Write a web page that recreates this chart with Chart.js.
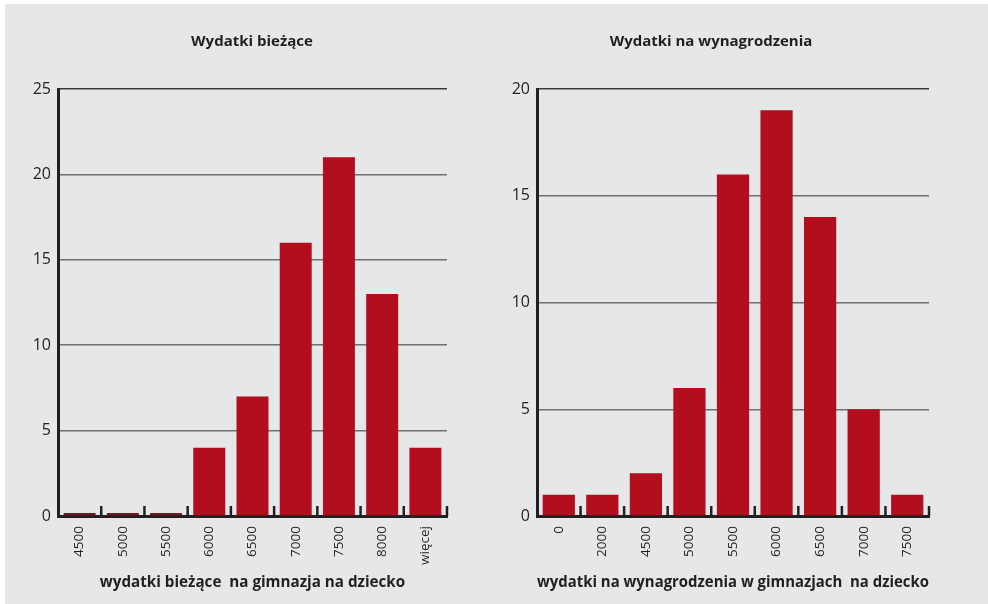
<!DOCTYPE html>
<html>
<head>
<meta charset="utf-8">
<script src="https://cdn.jsdelivr.net/npm/chart.js@4"></script>
<style>
  body { margin: 0; background: #fff; width: 988px; height: 604px; overflow: hidden; position: relative; }
  #panel { position: absolute; left: 5px; top: 4px; width: 983px; height: 600px; background: #e6e7e8; }
  .box { position: absolute; top: 0; height: 604px; }
  #box1 { left: 5px; width: 494px; }
  #box2 { left: 487px; width: 448px; }
</style>
</head>
<body>
<div id="panel"></div>
<div class="box" id="box1"><canvas id="chart1"></canvas></div>
<div class="box" id="box2"><canvas id="chart2"></canvas></div>
<script>
// Dane - wykres 1
const labels1 = ['4500', '5000', '5500', '6000', '6500', '7000', '7500', '8000', 'więcej'];
const values1 = [0, 0, 0, 4, 7, 16, 21, 13, 4];
const yMax1 = 25;

// Dane - wykres 2
const labels2 = ['0', '2000', '4500', '5000', '5500', '6000', '6500', '7000', '7500'];
const values2 = [1, 1, 2, 6, 16, 19, 14, 5, 1];
const yMax2 = 20;

const ink = '#231f20';
const barRed = '#b30e1d';
const font = "'Open Sans', sans-serif";

// kreski podziałki skierowane do góry, między kategoriami
const tickMarks = {
  id: 'tickMarks',
  afterDraw(chart) {
    const x = chart.scales.x;
    const ctx = chart.ctx;
    const bottom = chart.chartArea.bottom;
    const n = chart.data.labels.length;
    const step = x.getPixelForTick(1) - x.getPixelForTick(0);
    ctx.save();
    ctx.strokeStyle = ink;
    ctx.lineWidth = 2.5;
    for (let i = 0; i < n; i++) {
      const px = x.getPixelForTick(i) + step / 2;
      ctx.beginPath();
      ctx.moveTo(px, bottom);
      ctx.lineTo(px, bottom - 10);
      ctx.stroke();
    }
    ctx.restore();
  }
};

function makeChart(id, labels, values, yMax, title, axisTitle, yWidth, rightWidth) {
  const ctx = document.getElementById(id).getContext('2d');
  return new Chart(ctx, {
    type: 'bar',
    data: {
      labels: labels,
      datasets: [{
        data: values,
        backgroundColor: values.map(v => v === 0 ? '#6b1a20' : barRed),
        borderWidth: 0,
        barPercentage: 0.74,
        categoryPercentage: 1,
        minBarLength: 3
      }]
    },
    options: {
      responsive: true,
      maintainAspectRatio: false,
      animation: false,
      layout: { padding: { left: 0, right: 0, top: 0, bottom: 8 } },
      plugins: {
        legend: { display: false },
        tooltip: { enabled: false },
        title: {
          display: true,
          text: title,
          color: ink,
          font: { family: font, size: 15, weight: 'bold', lineHeight: 1.2 },
          padding: { top: 33, bottom: 38 }
        }
      },
      scales: {
        x: {
          z: 1,
          grid: { display: false, drawTicks: false },
          border: { display: true, color: ink, width: 3 },
          ticks: {
            color: ink,
            font: { family: font, size: 13.5 },
            minRotation: 90,
            maxRotation: 90,
            padding: 10,
            autoSkip: false
          },
          title: {
            display: true,
            text: axisTitle,
            color: ink,
            font: { family: font, size: 15.2, weight: 'bold', lineHeight: 1.2 },
            padding: { top: 0, bottom: 4 }
          },
          afterFit(scale) { scale.height = 80; }
        },
        y: {
          min: 0,
          max: yMax,
          ticks: {
            stepSize: 5,
            color: ink,
            font: { family: font, size: 16 },
            padding: 7
          },
          grid: {
            drawTicks: false,
            color: c => c.tick.value === yMax ? '#3a3a3a' : '#6f7072',
            lineWidth: 1.5
          },
          border: { display: true, color: ink, width: 3 },
          afterFit(scale) { scale.width = yWidth; }
        },
        // pusta oś po prawej - tylko rezerwuje miejsce
        yR: {
          position: 'right',
          min: 0,
          max: 1,
          ticks: { display: false },
          grid: { display: false, drawTicks: false },
          border: { display: false },
          afterFit(scale) { scale.width = rightWidth; }
        }
      }
    },
    plugins: [tickMarks]
  });
}

makeChart('chart1', labels1, values1, yMax1, 'Wydatki bieżące',
  'wydatki bieżące  na gimnazja na dziecko', 53, 52);
makeChart('chart2', labels2, values2, yMax2, 'Wydatki na wynagrodzenia',
  'wydatki na wynagrodzenia w gimnazjach  na dziecko', 50, 6);
</script>
</body>
</html>
